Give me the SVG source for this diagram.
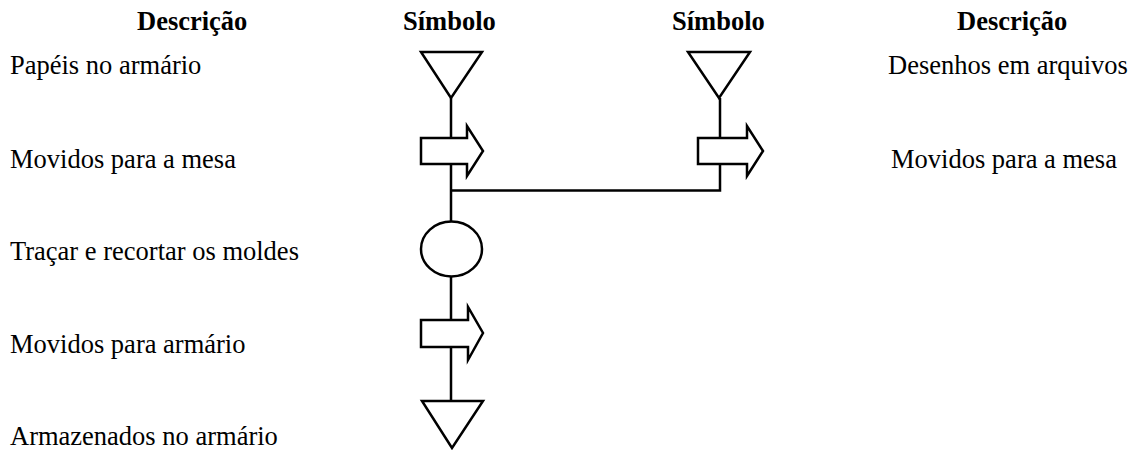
<svg xmlns="http://www.w3.org/2000/svg" width="1136" height="450" viewBox="0 0 1136 450">
<style>
text{font-family:"Liberation Serif","Times New Roman",serif;font-size:26.5px;fill:#000}
.h{font-weight:bold}
.s{fill:#fff;stroke:#000;stroke-width:2.5;stroke-linejoin:miter}
.c{fill:none;stroke:#000;stroke-width:2.5}
</style>
<rect width="1136" height="450" fill="#fff"/>
<g id="headers">
<text class="h" x="137" y="30">Descrição</text>
<text class="h" x="403" y="30">Símbolo</text>
<text class="h" x="672" y="30">Símbolo</text>
<text class="h" x="957" y="30">Descrição</text>
</g>
<g id="labels">
<text x="10" y="74">Papéis no armário</text>
<text x="10" y="168">Movidos para a mesa</text>
<text x="10" y="260">Traçar e recortar os moldes</text>
<text x="10" y="353">Movidos para armário</text>
<text x="10" y="445">Armazenados no armário</text>
<text x="888" y="74">Desenhos em arquivos</text>
<text x="891" y="168">Movidos para a mesa</text>
</g>
<g id="connectors">
<line class="c" x1="451" y1="98" x2="451" y2="401"/>
<polyline class="c" points="451,190.5 720,190.5 720,98"/>
</g>
<g id="store1"><polygon class="s" points="421,52 482,52 451,98"/></g>
<g id="move1"><polygon class="s" points="421,138 467,138 467,126 483,151 467,176 467,164 421,164"/></g>
<g id="store2"><polygon class="s" points="688,52 750,52 719,98"/></g>
<g id="move2"><polygon class="s" points="698,138 747,138 747,126 763,151 747,176 747,164 698,164"/></g>
<g id="operation"><ellipse class="s" cx="451.5" cy="249" rx="30.5" ry="27.5"/></g>
<g id="move3"><polygon class="s" points="421,320 468,320 468,307 483,333 468,360 468,347 421,347"/></g>
<g id="store3"><polygon class="s" points="422,401 483,401 452,448"/></g>
</svg>
